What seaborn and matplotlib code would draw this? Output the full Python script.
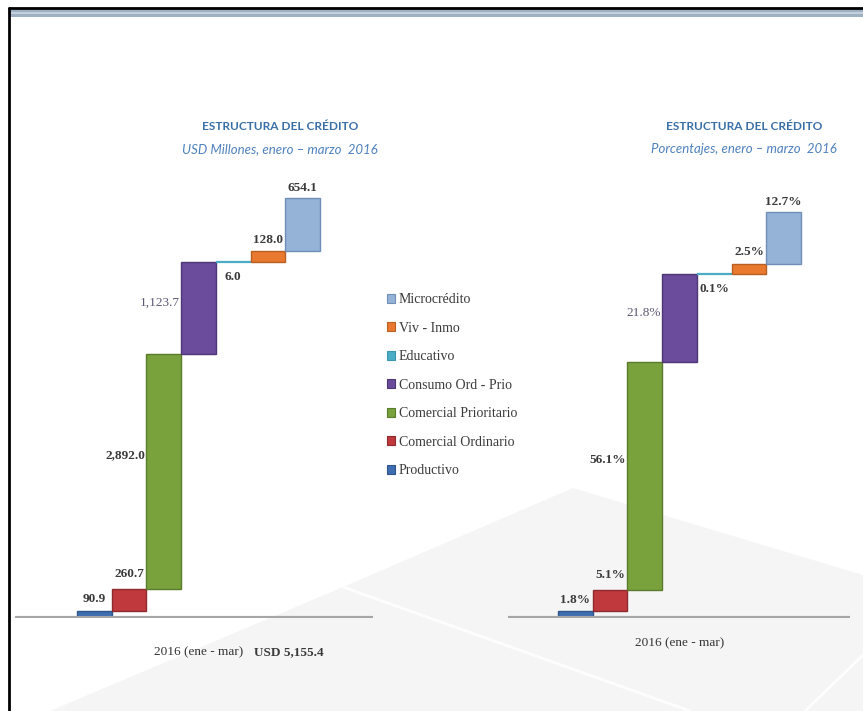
import numpy as np
import pandas as pd
import matplotlib
matplotlib.use("Agg")
import matplotlib.pyplot as plt
from matplotlib.patches import Patch, Polygon, Rectangle
import seaborn as sns

# --- data -------------------------------------------------------------
categories = ["Productivo", "Comercial Ordinario", "Comercial Prioritario",
              "Consumo Ord - Prio", "Educativo", "Viv - Inmo", "Microcrédito"]
usd_millones = [90.9, 260.7, 2892.0, 1123.7, 6.0, 128.0, 654.1]
porcentajes = [1.8, 5.1, 56.1, 21.8, 0.1, 2.5, 12.7]
periodo = "2016 (ene - mar)"

colores = ["#3E6DB0", "#C0393D", "#79A23D", "#6A4B9C", "#4BACC6", "#E8792E", "#95B3D7"]
bordes = ["#2F568C", "#8E2A2E", "#5A7A2C", "#4E3775", "#3A95AD", "#B85F22", "#6F8FB8"]

sns.set_theme(style="white")
SERIF = ["Liberation Serif", "DejaVu Serif"]
NARROW = ["Lato", "DejaVu Sans"]

W, H = 863, 711
fig = plt.figure(figsize=(W / 100, H / 100), dpi=100)
fig.patch.set_facecolor("white")

# --- slide background (pixel coordinates) -----------------------------
bg = fig.add_axes([0, 0, 1, 1], zorder=-5)
bg.set_xlim(0, W)
bg.set_ylim(H, 0)
bg.axis("off")
bg.add_patch(Polygon([(50, 711), (343, 587), (573, 488), (863, 575), (863, 711)],
                     closed=True, facecolor="#F5F5F5", edgecolor="none"))
bg.plot([343, 690], [587, 711], color="white", lw=2, alpha=0.9)
bg.plot([863, 805], [655, 711], color="white", lw=2, alpha=0.9)
bg.add_patch(Rectangle((10, 9), W - 10, 8, facecolor="#9FB0C2", edgecolor="none"))
bg.add_patch(Rectangle((10, 12), W - 10, 2, facecolor="#C4D0DC", edgecolor="none"))
bg.plot([9, W], [8, 8], color="black", lw=2)
bg.plot([9, 9], [8, H], color="black", lw=2)


def waterfall(rect, values, xlim, px_per_total, fmt, label_y, extra=None):
    ax = fig.add_axes(rect)
    ax.patch.set_alpha(0)
    total = float(np.sum(values))
    starts = np.concatenate([[0.0], np.cumsum(values)[:-1]])
    df = pd.DataFrame({"categoria": categories, "valor": values})
    sns.barplot(data=df, x="categoria", y="valor", order=categories,
                bottom=starts, width=1.0, errorbar=None, ax=ax,
                color="#888888", saturation=1, linewidth=1.0)
    for patch, fc, ec in zip(ax.patches, colores, bordes):
        patch.set_facecolor(fc)
        patch.set_edgecolor(ec)
    # Educativo is a hairline bar, draw its edge a bit heavier
    ax.patches[4].set_linewidth(1.6)
    ax.patches[4].set_edgecolor(colores[4])

    ax.set_xlim(*xlim)
    ax.set_ylim(0, total * px_per_total)
    ax.set_xticks([])
    ax.set_yticks([])
    ax.set_xlabel("")
    ax.set_ylabel("")
    sns.despine(ax=ax, left=True, bottom=True)
    ax.axhline(0, color="#A6A6A6", lw=3, zorder=1)

    tops = starts + np.asarray(values)
    bold = dict(fontfamily=SERIF, fontsize=9.5, fontweight="bold", color="#3A3A3A")
    # labels above: Productivo, Comercial Ordinario, Viv, Micro
    for i, dy in [(0, 8), (1, 11), (5, 8), (6, 7)]:
        ax.annotate(fmt(values[i]), (i, tops[i]), xytext=(0, dy),
                    textcoords="offset points", ha="center", va="center", **bold)
    # Comercial Prioritario: left of bar
    ax.annotate(fmt(values[2]), (1.5, starts[2] + values[2] / 2), xytext=(-1, 11.5),
                textcoords="offset points", ha="right", va="center", **bold)
    # Consumo: left of bar, lighter
    ax.annotate(fmt(values[3]), (2.5, starts[3] + values[3] / 2), xytext=(-1, 4),
                textcoords="offset points", ha="right", va="center",
                fontfamily=SERIF, fontsize=9.5, color="#5E5873")
    # Educativo: below the line
    ax.annotate(fmt(values[4]), (4, tops[4]), xytext=(0, -11),
                textcoords="offset points", ha="center", va="center", **bold)

    lab = ax.text(3, label_y, periodo, transform=ax.get_xaxis_transform(),
                  ha="center", va="center", fontfamily=SERIF, fontsize=9.5,
                  color="#333333")
    if extra:
        ax.annotate(extra, xy=(1, 0.5), xycoords=lab, xytext=(8, 0),
                    textcoords="offset points", ha="left", va="center", **bold)
    return ax


def px_rect(x0, x1, y_base, y_top):
    return [x0 / W, (H - y_base) / H, (x1 - x0) / W, (y_base - y_top) / H]


total_usd = float(np.sum(usd_millones))
waterfall(px_rect(15, 373, 618, 170), usd_millones, (-2.29, 8.03), 448 / 420,
          lambda v: f"{v:,.1f}", -0.076, extra=f"USD {total_usd:,.1f}")
waterfall(px_rect(508, 850, 618, 170), porcentajes, (-1.94, 7.91), 448 / 406,
          lambda v: f"{v:.1f}%", -0.056)

# --- titles -----------------------------------------------------------
for cx, sub in [(280, "USD Millones, enero – marzo  2016"),
                (744, "Porcentajes, enero – marzo  2016")]:
    fig.text(cx / W, 1 - 127 / H, "ESTRUCTURA DEL CRÉDITO", ha="center", va="center",
             fontfamily=NARROW, fontweight="bold", fontsize=8.6, color="#3B6FA8")
    fig.text(cx / W, 1 - 149 / H, sub, ha="center", va="center",
             fontfamily=NARROW, fontstyle="italic", fontsize=9.5, color="#4F81BD")

# --- legend -----------------------------------------------------------
handles = [Patch(facecolor=c, edgecolor=e, lw=0.8, label=n)
           for n, c, e in zip(categories, colores, bordes)][::-1]
leg = fig.legend(handles=handles, loc="upper left",
                 bbox_to_anchor=(387 / W, 1 - 293 / H), frameon=False,
                 borderpad=0, borderaxespad=0, handlelength=0.6, handleheight=0.6,
                 handletextpad=0.25, labelspacing=1.12,
                 prop={"family": SERIF, "size": 10})
for t in leg.get_texts():
    t.set_color("#3A3A3A")

fig.savefig("out.png", dpi=100, facecolor="white")
